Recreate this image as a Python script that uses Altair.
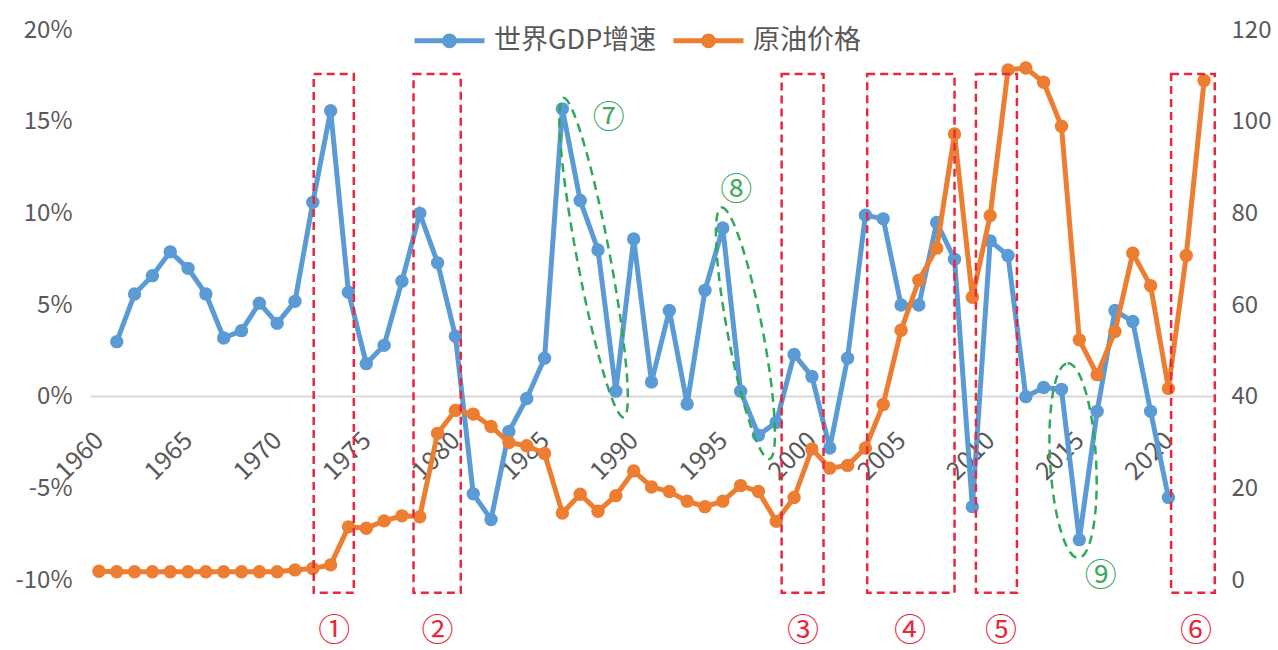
import altair as alt
import pandas as pd

# ---------------- data ----------------
gdp_years = list(range(1961, 2021))
gdp_values = [3.0, 5.6, 6.6, 7.9, 7.0, 5.6, 3.2, 3.6, 5.1, 4.0,
              5.2, 10.6, 15.6, 5.7, 1.8, 2.8, 6.3, 10.0, 7.3, 3.3,
              -5.3, -6.7, -1.9, -0.1, 2.1, 15.7, 10.7, 8.0, 0.3, 8.6,
              0.8, 4.7, -0.4, 5.8, 9.2, 0.3, -2.1, -1.4, 2.3, 1.1,
              -2.8, 2.1, 9.9, 9.7, 5.0, 5.0, 9.5, 7.5, -6.0, 8.5,
              7.7, 0.0, 0.5, 0.4, -7.8, -0.8, 4.7, 4.1, -0.8, -5.5]

oil_years = list(range(1960, 2023))
oil_values = [1.9, 1.8, 1.8, 1.8, 1.8, 1.8, 1.8, 1.8, 1.8, 1.8,
              1.8, 2.2, 2.5, 3.3, 11.6, 11.3, 12.9, 14.0, 13.8, 32.0,
              37.0, 36.2, 33.5, 30.0, 29.3, 27.6, 14.6, 18.7, 15.0, 18.4,
              23.8, 20.3, 19.3, 17.2, 16.0, 17.2, 20.6, 19.3, 12.8, 18.0,
              28.6, 24.4, 25.0, 28.8, 38.3, 54.5, 65.4, 72.4, 97.3, 61.7,
              79.5, 111.3, 111.7, 108.6, 99.0, 52.4, 44.8, 54.2, 71.3, 64.2,
              41.8, 70.8, 109.0]

series_names = ["世界GDP增速", "原油价格"]
series_colors = ["#5B9BD5", "#ED7D31"]

x_ticks = list(range(1960, 2021, 5))
left_ticks = [-10, -5, 0, 5, 10, 15, 20]
right_ticks = [0, 20, 40, 60, 80, 100, 120]

# red dashed boxes (year span, GDP-% span) and their circled labels
box_names = ["①", "②", "③", "④", "⑤", "⑥"]
box_start = [1972.05, 1977.65, 1998.3, 2003.1, 2009.2, 2020.15]
box_end = [1974.3, 1980.3, 2000.65, 2008.0, 2011.5, 2022.6]
box_top = [17.6] * 6
box_bottom = [-10.7] * 6
box_label_year = [1973.2, 1979.0, 1999.5, 2005.5, 2010.6, 2021.55]
box_label_val = [-12.8] * 6

# green dashed ellipses and their labels
ell_names = ["⑦", "⑧", "⑨"]
ell_year = [1987.75, 1996.27, 2014.65]
ell_val = [7.58, 3.46, -3.49]
ell_len = [325, 256, 195]
ell_wid = [33, 35, 46]
ell_rot = [349.3, 349.2, 356.8]
ell_label_year = [1988.6, 1995.75, 2016.2]
ell_label_val = [15.2, 11.25, -9.8]

# ---------------- helpers ----------------
K = 0.5523


def ellipse_path(r):
    a = K * r
    return (f"M0,-1 C{a:.4f},-1 {r:.4f},-{K} {r:.4f},0 "
            f"C{r:.4f},{K} {a:.4f},1 0,1 "
            f"C-{a:.4f},1 -{r:.4f},{K} -{r:.4f},0 "
            f"C-{r:.4f},-{K} -{a:.4f},-1 0,-1 Z")


def circle_path(r):
    a = K * r
    return (f"M0,-{r:.4f} C{a:.4f},-{r:.4f} {r:.4f},-{a:.4f} {r:.4f},0 "
            f"C{r:.4f},{a:.4f} {a:.4f},{r:.4f} 0,{r:.4f} "
            f"C-{a:.4f},{r:.4f} -{r:.4f},{a:.4f} -{r:.4f},0 "
            f"C-{r:.4f},-{a:.4f} -{a:.4f},-{r:.4f} 0,-{r:.4f} Z")


legend_symbol = "M-1,0 L1,0 " + circle_path(0.07) + " " + circle_path(0.14)

gdp_df = pd.DataFrame({"year": gdp_years, "val": gdp_values, "series": series_names[0]})
oil_df = pd.DataFrame({"year": oil_years, "val": oil_values, "series": series_names[1]})
box_df = pd.DataFrame({"year": box_start, "x2": box_end, "top": box_top, "bottom": box_bottom})
box_lab_df = pd.DataFrame({"year": box_label_year, "val": box_label_val, "t": box_names})
ell_df = pd.DataFrame({
    "year": ell_year, "val": ell_val,
    "shape": [ellipse_path(w / l) for w, l in zip(ell_wid, ell_len)],
    "size": [l * l for l in ell_len],
    "rot": ell_rot,
})
ell_lab_df = pd.DataFrame({"year": ell_label_year, "val": ell_label_val, "t": ell_names})

GRAY = "#595959"
FONT = "Noto Sans CJK SC"
XDOM = [1959.5, 2022.5]
YDOM = [-10, 20]

xscale = alt.Scale(domain=XDOM, nice=False, zero=False)
yscale = alt.Scale(domain=YDOM, nice=False, zero=False)

x_axis = alt.Axis(
    values=x_ticks, format="d", labelAngle=315, labelAlign="right",
    labelBaseline="middle", offset=-184, ticks=False, tickSize=0,
    domainColor="#D9D9D9", domainWidth=2, grid=False, labelPadding=40,
    labelFontSize=25, labelFont=FONT, labelColor=GRAY, title=None,
    labelFlush=False, labelOverlap=False,
)


def xenc(field="year"):
    return alt.X(f"{field}:Q", scale=xscale, axis=x_axis)


color = alt.Color(
    "series:N",
    scale=alt.Scale(domain=series_names, range=series_colors),
    legend=alt.Legend(
        orient="none", legendX=322, legendY=-27, direction="horizontal",
        title=None, symbolType=legend_symbol, symbolSize=4900,
        symbolStrokeWidth=5, labelFontSize=27, labelFont=FONT,
        labelColor=GRAY, labelOffset=7, columnPadding=6, padding=0,
        labelLimit=400,
    ),
)

gdp_chart = alt.Chart(gdp_df).mark_line(
    strokeWidth=5, point=alt.OverlayMarkDef(filled=True, size=180, opacity=1)
).encode(
    x=xenc(),
    y=alt.Y("val:Q", scale=yscale, axis=alt.Axis(
        values=left_ticks, labelExpr="datum.value + '%'", domain=False,
        ticks=False, grid=False, labelFontSize=24, labelFont=FONT,
        labelColor=GRAY, labelPadding=18, title=None)),
    color=color,
)

oil_chart = alt.Chart(oil_df).mark_line(
    strokeWidth=5, point=alt.OverlayMarkDef(filled=True, size=180, opacity=1)
).encode(
    x=xenc(),
    y=alt.Y("val:Q", scale=alt.Scale(domain=[0, 120], nice=False, zero=False),
            axis=alt.Axis(orient="right", values=right_ticks, domain=False,
                          ticks=False, grid=False, labelFontSize=24,
                          labelFont=FONT, labelColor=GRAY, labelPadding=18,
                          title=None)),
    color=color,
)

boxes = alt.Chart(box_df).mark_rect(
    filled=False, stroke="#E8283C", strokeWidth=2.5, strokeDash=[8, 5], clip=False
).encode(
    x=xenc(),
    x2="x2:Q",
    y=alt.Y("top:Q", scale=yscale, axis=None),
    y2="bottom:Q",
)

box_labels = alt.Chart(box_lab_df).mark_text(
    font=FONT, fontSize=32, color="#E8283C", clip=False
).encode(
    x=xenc(),
    y=alt.Y("val:Q", scale=yscale, axis=None),
    text="t:N",
)

ellipses = alt.Chart(ell_df).mark_point(
    filled=False, stroke="#2FA85A", strokeWidth=2.5, strokeDash=[9, 6],
    opacity=1, clip=False
).encode(
    x=xenc(),
    y=alt.Y("val:Q", scale=yscale, axis=None),
    shape=alt.Shape("shape:N", scale=None),
    size=alt.Size("size:Q", scale=None),
    angle=alt.Angle("rot:Q", scale=None),
)

ell_labels = alt.Chart(ell_lab_df).mark_text(
    font=FONT, fontSize=32, color="#3DAA5F", clip=False
).encode(
    x=xenc(),
    y=alt.Y("val:Q", scale=yscale, axis=None),
    text="t:N",
)

chart = alt.layer(
    gdp_chart, oil_chart, boxes, box_labels, ellipses, ell_labels
).resolve_scale(
    y="independent"
).properties(
    width=1123, height=550,
    padding={"left": 90, "top": 30, "right": 65, "bottom": 70},
    autosize=alt.AutoSizeParams(type="none"),
    background="white",
).configure_view(stroke=None)

chart.save("out.html", embed_options={"renderer": "svg", "actions": False})
